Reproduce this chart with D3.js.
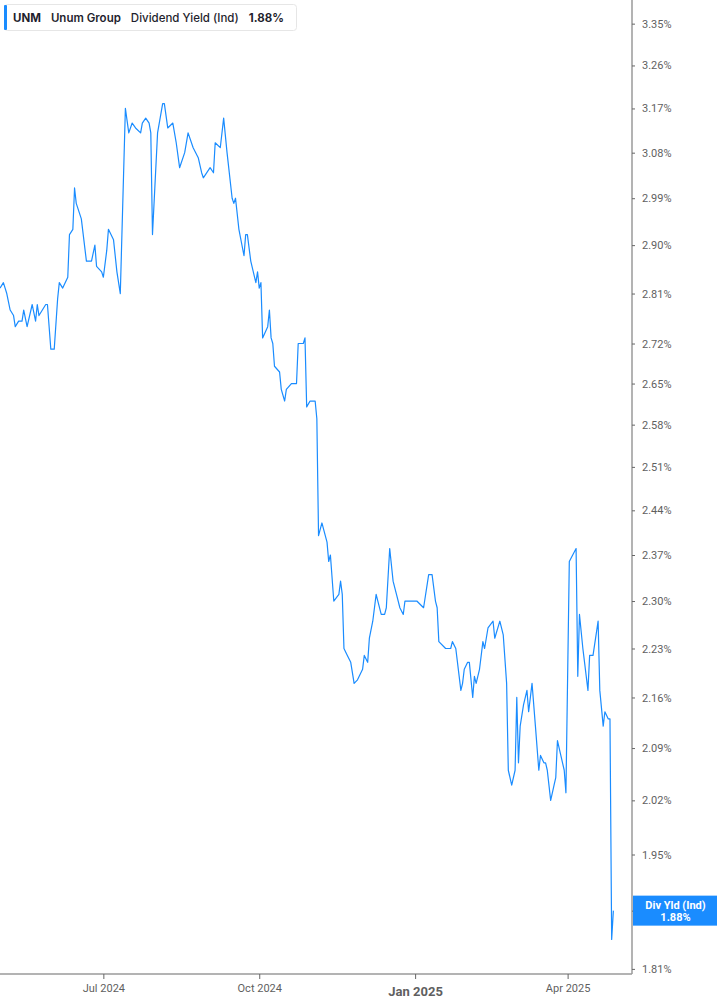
<!DOCTYPE html>
<html>
<head>
<meta charset="utf-8">
<script src="https://cdn.jsdelivr.net/npm/d3@7"></script>
<style>
  html, body { margin: 0; padding: 0; background: #fff; }
  #chart { width: 717px; height: 1005px; }
  .axis text { font-family: Roboto, "Noto Sans", sans-serif; fill: #5f5f5f; }
</style>
</head>
<body>
<div id="chart"></div>
<script>
// UNM dividend yield (indicated)
const dates = [
  "2024-05-01","2024-05-03","2024-05-05","2024-05-07","2024-05-09","2024-05-10","2024-05-12","2024-05-14","2024-05-15","2024-05-17",
  "2024-05-20","2024-05-22","2024-05-23","2024-05-24","2024-05-28","2024-05-29","2024-05-31","2024-06-02","2024-06-04","2024-06-05",
  "2024-06-07","2024-06-10","2024-06-11","2024-06-13","2024-06-14","2024-06-15","2024-06-18","2024-06-21","2024-06-24","2024-06-26",
  "2024-06-27","2024-06-30","2024-07-01","2024-07-03","2024-07-04","2024-07-07","2024-07-09","2024-07-11","2024-07-14","2024-07-16",
  "2024-07-18","2024-07-20","2024-07-23","2024-07-24","2024-07-26","2024-07-28","2024-07-29","2024-07-30","2024-08-02","2024-08-05",
  "2024-08-06","2024-08-08","2024-08-11","2024-08-13","2024-08-15","2024-08-18","2024-08-20","2024-08-23","2024-08-26","2024-08-28",
  "2024-08-29","2024-09-02","2024-09-04","2024-09-05","2024-09-08","2024-09-10","2024-09-12","2024-09-15","2024-09-16","2024-09-17",
  "2024-09-19","2024-09-22","2024-09-23","2024-09-24","2024-09-26","2024-09-29","2024-09-30","2024-10-01","2024-10-02","2024-10-03",
  "2024-10-06","2024-10-07","2024-10-08","2024-10-09","2024-10-10","2024-10-13","2024-10-14","2024-10-16","2024-10-17","2024-10-20",
  "2024-10-21","2024-10-23","2024-10-24","2024-10-27","2024-10-28","2024-10-29","2024-10-31","2024-11-03","2024-11-04","2024-11-05",
  "2024-11-07","2024-11-08","2024-11-10","2024-11-11","2024-11-12","2024-11-14","2024-11-17","2024-11-18","2024-11-19","2024-11-20",
  "2024-11-22","2024-11-24","2024-11-26","2024-11-28","2024-12-01","2024-12-02","2024-12-04","2024-12-05","2024-12-07","2024-12-09",
  "2024-12-10","2024-12-12","2024-12-14","2024-12-15","2024-12-17","2024-12-19","2024-12-21","2024-12-23","2024-12-25","2024-12-26",
  "2024-12-29","2024-12-31","2025-01-02","2025-01-06","2025-01-09","2025-01-11","2025-01-13","2025-01-14","2025-01-15","2025-01-19",
  "2025-01-20","2025-01-22","2025-01-23","2025-01-25","2025-01-28","2025-01-29","2025-01-30","2025-02-01","2025-02-02","2025-02-04",
  "2025-02-05","2025-02-06","2025-02-08","2025-02-10","2025-02-11","2025-02-13","2025-02-16","2025-02-17","2025-02-20","2025-02-22",
  "2025-02-24","2025-02-25","2025-02-27","2025-03-01","2025-03-02","2025-03-03","2025-03-04","2025-03-06","2025-03-08","2025-03-09",
  "2025-03-11","2025-03-13","2025-03-15","2025-03-16","2025-03-18","2025-03-19","2025-03-20","2025-03-22","2025-03-24","2025-03-25",
  "2025-03-26","2025-03-29","2025-03-30","2025-03-31","2025-04-02","2025-04-04","2025-04-06","2025-04-07","2025-04-08","2025-04-10",
  "2025-04-13","2025-04-14","2025-04-16","2025-04-19","2025-04-20","2025-04-22","2025-04-23","2025-04-25","2025-04-26","2025-04-27",
  "2025-04-28"
];

const yields = [
  2.82, 2.83, 2.81, 2.78, 2.77, 2.75, 2.76, 2.76, 2.78, 2.75,
  2.79, 2.76, 2.79, 2.77, 2.79, 2.79, 2.71, 2.71, 2.80, 2.83,
  2.82, 2.84, 2.92, 2.93, 3.01, 2.98, 2.95, 2.87, 2.87, 2.90,
  2.86, 2.85, 2.84, 2.89, 2.93, 2.91, 2.85, 2.81, 3.17, 3.12,
  3.14, 3.13, 3.12, 3.14, 3.15, 3.14, 3.12, 2.92, 3.12, 3.18,
  3.18, 3.13, 3.14, 3.10, 3.05, 3.08, 3.12, 3.09, 3.07, 3.04,
  3.03, 3.05, 3.04, 3.10, 3.09, 3.15, 3.08, 2.99, 2.98, 2.99,
  2.93, 2.88, 2.92, 2.92, 2.87, 2.83, 2.85, 2.82, 2.83, 2.73,
  2.75, 2.78, 2.73, 2.72, 2.68, 2.67, 2.64, 2.62, 2.64, 2.65,
  2.65, 2.65, 2.72, 2.72, 2.73, 2.61, 2.62, 2.62, 2.59, 2.40,
  2.42, 2.41, 2.39, 2.36, 2.37, 2.30, 2.31, 2.33, 2.31, 2.23,
  2.22, 2.21, 2.18, 2.185, 2.20, 2.22, 2.21, 2.245, 2.27, 2.31,
  2.30, 2.28, 2.28, 2.29, 2.38, 2.33, 2.31, 2.29, 2.28, 2.30,
  2.30, 2.30, 2.30, 2.29, 2.34, 2.34, 2.30, 2.29, 2.24, 2.23,
  2.23, 2.23, 2.24, 2.23, 2.17, 2.18, 2.20, 2.21, 2.21, 2.16,
  2.19, 2.18, 2.20, 2.24, 2.23, 2.26, 2.27, 2.245, 2.27, 2.25,
  2.18, 2.06, 2.04, 2.06, 2.16, 2.07, 2.12, 2.15, 2.17, 2.14,
  2.18, 2.12, 2.06, 2.08, 2.07, 2.07, 2.06, 2.02, 2.04, 2.05,
  2.10, 2.07, 2.06, 2.03, 2.36, 2.37, 2.38, 2.19, 2.28, 2.23,
  2.17, 2.22, 2.22, 2.27, 2.17, 2.12, 2.14, 2.13, 2.13, 1.845,
  1.88
];

const yTicks = [3.35, 3.26, 3.17, 3.08, 2.99, 2.90, 2.81, 2.72, 2.65, 2.58, 2.51, 2.44, 2.37, 2.30, 2.23, 2.16, 2.09, 2.02, 1.95, 1.88, 1.81];
const xTicks = ["2024-07-01", "2024-10-01", "2025-01-01", "2025-04-01"];
const lastValue = 1.88;

const W = 717, H = 1005;
const plotRight = 632, plotBottom = 974;
const blue = "#1a8cff";

const parse = d3.utcParse("%Y-%m-%d");
const data = dates.map((d, i) => ({ date: parse(d), value: yields[i] }));

const svg = d3.select("#chart").append("svg")
  .attr("width", W)
  .attr("height", H);

const x = d3.scaleUtc()
  .domain([parse("2024-05-01"), parse("2025-05-09")])
  .range([0, plotRight]);

const y = d3.scaleLog()
  .domain([1.804, 3.402])
  .range([plotBottom, 0]);

// line
const line = d3.line()
  .x(d => x(d.date))
  .y(d => y(d.value));

svg.append("path")
  .datum(data)
  .attr("fill", "none")
  .attr("stroke", blue)
  .attr("stroke-width", 1.2)
  .attr("stroke-linejoin", "round")
  .attr("d", line);

// right axis (the 1.88% label sits under the badge, so leave it blank)
const yAxis = svg.append("g")
  .attr("class", "axis")
  .attr("transform", `translate(${plotRight},0)`)
  .call(d3.axisRight(y)
    .tickValues(yTicks)
    .tickSize(3)
    .tickPadding(7)
    .tickFormat(d => d === lastValue ? "" : d.toFixed(2) + "%"));
yAxis.select(".domain")
  .attr("stroke", "#9a9a9a")
  .attr("stroke-width", 1.5)
  .attr("d", `M0,0V${plotBottom}`);
yAxis.selectAll(".tick line").attr("stroke", "#666");
yAxis.selectAll(".tick text").attr("font-size", 11);

// bottom axis
const xAxis = svg.append("g")
  .attr("class", "axis")
  .attr("transform", `translate(0,${plotBottom})`)
  .call(d3.axisBottom(x)
    .tickValues(xTicks.map(parse))
    .tickSize(5)
    .tickPadding(5)
    .tickFormat(d3.utcFormat("%b %Y")));
xAxis.select(".domain")
  .attr("stroke", "#9a9a9a")
  .attr("stroke-width", 1.5)
  .attr("d", `M0,0H${plotRight}`);
xAxis.selectAll(".tick line").attr("stroke", "#666");
xAxis.selectAll(".tick text")
  .attr("font-size", 11)
  .filter(d => d.getUTCMonth() === 0)
  .attr("font-size", 13)
  .attr("font-weight", "bold")
  .attr("dy", "0.95em")
  .attr("fill", "#555");

// last value badge on the axis
const badge = svg.append("g")
  .attr("transform", `translate(${plotRight + 1},${y(lastValue) - 15})`);
badge.append("rect")
  .attr("width", W - plotRight - 1)
  .attr("height", 30)
  .attr("fill", blue);
badge.append("text")
  .attr("x", (W - plotRight) / 2)
  .attr("y", 13)
  .attr("text-anchor", "middle")
  .attr("fill", "#fff")
  .attr("font-family", "Roboto, sans-serif")
  .attr("font-weight", "bold")
  .attr("font-size", 11)
  .text("Div Yld (Ind)");
badge.append("text")
  .attr("x", (W - plotRight) / 2)
  .attr("y", 25)
  .attr("text-anchor", "middle")
  .attr("fill", "#fff")
  .attr("font-family", "Roboto, sans-serif")
  .attr("font-weight", "bold")
  .attr("font-size", 11)
  .text(lastValue.toFixed(2) + "%");

// legend box top-left
const legend = svg.append("g").attr("transform", "translate(4,4)");
const legendBox = legend.append("rect")
  .attr("x", 0.5).attr("y", 0.5)
  .attr("width", 292).attr("height", 26)
  .attr("rx", 3)
  .attr("fill", "#fff")
  .attr("stroke", "#e6e6e6");
legend.append("rect")
  .attr("x", 0).attr("y", 1)
  .attr("width", 3).attr("height", 25)
  .attr("rx", 1)
  .attr("fill", blue);

const legendItems = [
  { text: "UNM", weight: 700 },
  { text: "Unum Group", weight: 600 },
  { text: "Dividend Yield (Ind)", weight: 500 },
  { text: lastValue.toFixed(2) + "%", weight: 700 }
];
const items = legend.selectAll("text.item")
  .data(legendItems)
  .enter()
  .append("text")
  .attr("class", "item")
  .attr("y", 18)
  .attr("font-family", "Inter, Roboto, sans-serif")
  .attr("font-size", 11.5)
  .attr("font-weight", d => d.weight)
  .attr("fill", "#1f1f2e")
  .text(d => d.text);

// lay the items out one after another with a 10px gap
let cursor = 9;
items.each(function() {
  d3.select(this).attr("x", cursor);
  cursor += this.getComputedTextLength() + 10;
});
legendBox.attr("width", Math.max(292, cursor - 2));
</script>
</body>
</html>
